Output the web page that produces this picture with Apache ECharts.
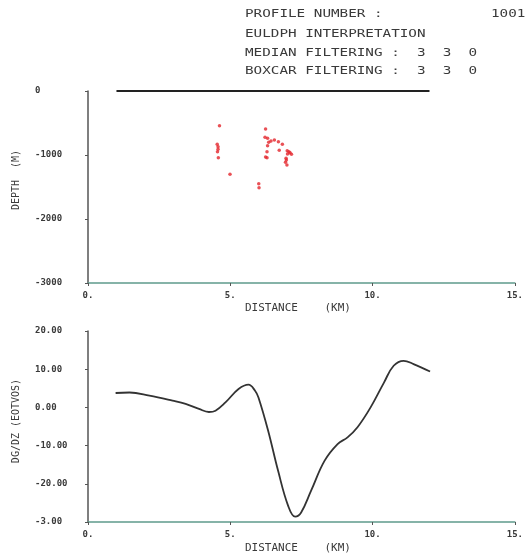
<!DOCTYPE html>
<html><head><meta charset="utf-8">
<script src="https://cdn.jsdelivr.net/npm/echarts@6/dist/echarts.min.js"></script>
<style>html,body{margin:0;padding:0;background:#fff}#c{width:526px;height:556px}</style>
</head><body><div id="c"></div>
<script>
// ---- data ----
const distanceTicks = [0, 5, 10, 15];
const distanceTickLabels = ['0.', '5.', '10.', '15.'];
const depthTicks = [-3000, -2000, -1000, 0];
const depthTickLabels = ['-3000', '-2000', '-1000', '0'];
const dgdzTicks = [-30, -20, -10, 0, 10, 20];
const dgdzTickLabels = ['-3.00', '-20.00', '-10.00', '0.00', '10.00', '20.00'];

const surfaceX = [1.0, 12.0];
const surfaceDepth = [0, 0];

const solX = [4.62, 4.54, 4.57, 4.57, 4.55, 4.58, 4.99, 6.0, 6.01, 6.24, 6.22, 6.31, 6.35, 6.31, 6.29, 6.24, 6.29, 6.43, 6.55, 6.69, 6.83, 6.72, 7.0, 7.06, 7.1, 7.01, 7.15, 6.96, 6.94, 6.99, 6.97];
const solDepth = [-542, -833, -870, -911, -948, -1042, -1302, -1450, -1510, -594, -723, -739, -802, -855, -948, -1031, -1042, -781, -766, -792, -833, -927, -933, -948, -964, -984, -989, -1052, -1114, -1156, -1078];

const profX = [0.97, 1.46, 2.16, 2.97, 3.43, 3.9, 4.25, 4.48, 4.83, 5.29, 5.64, 5.87, 5.99, 6.33, 6.68, 7.03, 7.28, 7.49, 7.84, 8.31, 8.77, 9.12, 9.47, 9.93, 10.4, 10.74, 11.09, 11.44, 12.02];
const profDG = [3.77, 3.9, 3.06, 1.75, 0.9, -0.4, -1.2, -0.86, 1.3, 4.8, 5.94, 4.37, 2.6, -6.1, -16.6, -25.7, -28.6, -27.5, -21.8, -14, -9.6, -7.85, -5.2, 0, 6.5, 10.9, 12.2, 11.35, 9.4];

const headerLines = [
  ['PROFILE NUMBER :', '1001'],
  ['EULDPH INTERPRETATION', ''],
  ['MEDIAN FILTERING :  3  3  0', ''],
  ['BOXCAR FILTERING :  3  3  0', '']
];

// ---- chart ----
const FONT = '"DejaVu Sans Mono", monospace';
const TXT = '#3a3a3a';
function lookup(ticks, labels) { return v => { const i = ticks.indexOf(v); return i >= 0 ? labels[i] : ''; }; }
function xAxisCfg(gi) {
  return {
    type: 'value', gridIndex: gi, min: 0, max: 15, interval: 5,
    axisLine: { show: true, onZero: false, lineStyle: { color: '#5f9a8c', width: 1.5 } },
    axisTick: { show: true, length: 3, lineStyle: { color: '#555' } },
    axisLabel: { formatter: lookup(distanceTicks, distanceTickLabels), fontFamily: FONT, fontSize: 9, fontWeight: 'bold', color: TXT, margin: 8 },
    splitLine: { show: false }
  };
}
function yAxisCfg(gi, min, max, interval, ticks, labels) {
  return {
    type: 'value', gridIndex: gi, min, max, interval,
    axisLine: { show: true, onZero: false, lineStyle: { color: '#555', width: 1.5 } },
    axisTick: { show: true, length: 3, lineStyle: { color: '#555' } },
    axisLabel: { formatter: lookup(ticks, labels), fontFamily: FONT, fontSize: 9, fontWeight: 'bold', color: TXT, align: 'left', margin: 53 },
    splitLine: { show: false }
  };
}

const graphics = [];
const headerY = [14, 34, 53, 71];
headerLines.forEach((l, i) => {
  graphics.push({ type: 'text', x: 245, y: headerY[i], scaleX: 1.36, style: { text: l[0], font: '10.5px ' + FONT, fill: TXT, verticalAlign: 'middle' } });
  if (l[1]) graphics.push({ type: 'text', x: 491, y: headerY[i], scaleX: 1.36, style: { text: l[1], font: '10.5px ' + FONT, fill: TXT, verticalAlign: 'middle' } });
});
[308, 548].forEach(y => {
  graphics.push({ type: 'text', x: 245, y, scaleX: 1.1, style: { text: 'DISTANCE    (KM)', font: '10px ' + FONT, fill: TXT, verticalAlign: 'middle' } });
});
graphics.push({ type: 'text', x: 16, y: 180, rotation: Math.PI / 2, style: { text: 'DEPTH  (M)', font: '10px ' + FONT, fill: TXT, align: 'center', verticalAlign: 'middle' } });
graphics.push({ type: 'text', x: 16, y: 421, rotation: Math.PI / 2, style: { text: 'DG/DZ (EOTVOS)', font: '10px ' + FONT, fill: TXT, align: 'center', verticalAlign: 'middle' } });

const option = {
  backgroundColor: '#fff',
  animation: false,
  grid: [
    { left: 88, top: 91, width: 431, height: 192 },
    { left: 88, top: 331, width: 431, height: 191 }
  ],
  xAxis: [xAxisCfg(0), xAxisCfg(1)],
  yAxis: [
    yAxisCfg(0, -3000, 0, 1000, depthTicks, depthTickLabels),
    yAxisCfg(1, -30, 20, 10, dgdzTicks, dgdzTickLabels)
  ],
  graphic: graphics,
  series: [
    { type: 'line', xAxisIndex: 0, yAxisIndex: 0, data: surfaceX.map((x, i) => [x, surfaceDepth[i]]), showSymbol: false, lineStyle: { color: '#222', width: 2 } },
    { type: 'scatter', xAxisIndex: 0, yAxisIndex: 0, data: solX.map((x, i) => [x, solDepth[i]]), symbolSize: 3.5, itemStyle: { color: '#e3262c' } },
    { type: 'line', xAxisIndex: 1, yAxisIndex: 1, data: profX.map((x, i) => [x, profDG[i]]), smooth: 0.4, showSymbol: false, lineStyle: { color: '#333', width: 1.8 } }
  ]
};
echarts.init(document.getElementById('c'), null, { renderer: 'canvas' }).setOption(option);
</script></body></html>
